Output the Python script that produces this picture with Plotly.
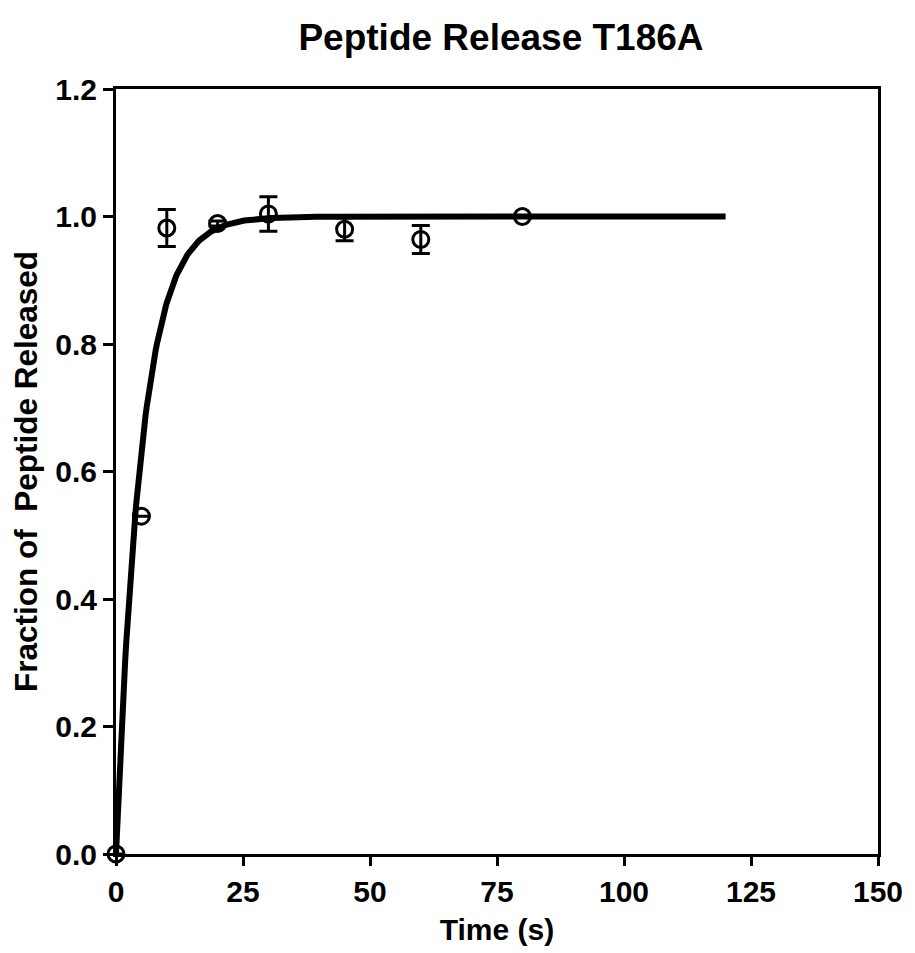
import numpy as np
import plotly.graph_objects as go

# Data
time_s = [0, 5, 10, 20, 30, 45, 60, 80]
fraction = [0.0, 0.53, 0.982, 0.989, 1.004, 0.980, 0.964, 1.0]
err = [0.0, 0.0, 0.029, 0.004, 0.027, 0.018, 0.022, 0.0]

# single-exponential fit parameters
fit_k = 0.2
fit_ymax = 1.0
fit_tmax = 120

x_ticks = [0, 25, 50, 75, 100, 125, 150]
y_ticks = [0.0, 0.2, 0.4, 0.6, 0.8, 1.0, 1.2]

t_fit = np.linspace(0, fit_tmax, 600)
y_fit = fit_ymax * (1 - np.exp(-fit_k * t_fit))

FONT = "Liberation Sans, Arial, sans-serif"
W, H = 907, 945

fig = go.Figure()
fig.add_trace(go.Scatter(
    x=t_fit, y=y_fit, mode="lines",
    line=dict(color="black", width=6),
    cliponaxis=False, hoverinfo="skip", showlegend=False,
))
fig.add_trace(go.Scatter(
    x=time_s, y=fraction, mode="markers",
    marker=dict(symbol="circle-open", size=16, color="black", line=dict(width=3, color="black")),
    error_y=dict(type="data", array=err, visible=True, color="black", thickness=3, width=9),
    cliponaxis=False, showlegend=False,
))

fig.update_layout(
    width=W, height=H,
    margin=dict(l=108, r=30, t=81, b=95),
    paper_bgcolor="white", plot_bgcolor="white",
    font=dict(family=FONT, color="black"),
    title=dict(text="<b>Peptide Release T186A</b>", x=493 / W, xanchor="center",
               y=1 - 29 / H, yanchor="middle", yref="container",
               font=dict(size=37, family=FONT, color="black")),
    xaxis=dict(
        range=[0, 150], tickvals=x_ticks, ticktext=[str(v) for v in x_ticks],
        showgrid=False, zeroline=False,
        showline=True, linecolor="black", linewidth=3, mirror=True,
        ticks="outside", ticklen=9, tickwidth=3, tickcolor="black",
        tickfont=dict(size=30, family=FONT, color="black", weight="bold"),
        title=dict(text="<b>Time (s)</b>", font=dict(size=30, family=FONT, color="black"), standoff=12),
    ),
    yaxis=dict(
        range=[0, 1.2], tickvals=y_ticks, ticktext=[f"{v:.1f}" for v in y_ticks],
        showgrid=False, zeroline=False,
        showline=True, linecolor="black", linewidth=3, mirror=True,
        ticks="outside", ticklen=10, tickwidth=3, tickcolor="black",
        tickfont=dict(size=30, family=FONT, color="black", weight="bold"),
        title=dict(text="<b>Fraction of\u00a0 Peptide Released</b>",
                   font=dict(size=31.5, family=FONT, color="black"),
                   standoff=9),
    ),
)

fig.write_html("out.html")
